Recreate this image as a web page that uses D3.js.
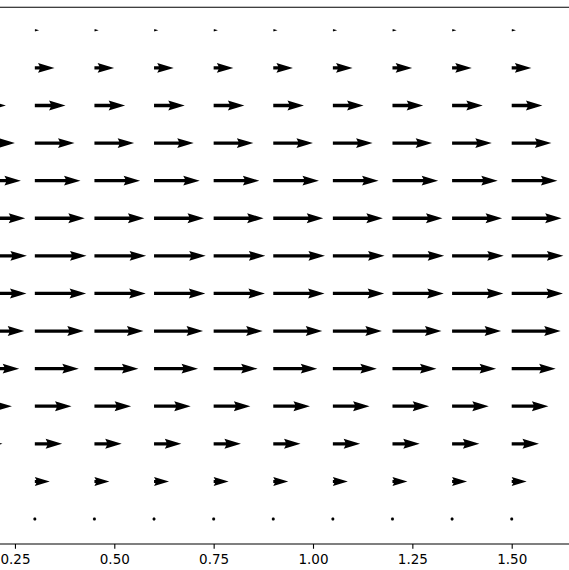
<!DOCTYPE html>
<html>
<head>
<meta charset="utf-8">
<script src="https://cdn.jsdelivr.net/npm/d3@7"></script>
<style>
html,body{margin:0;padding:0;background:#fff;}
svg{display:block;}
text{font-family:"DejaVu Sans",sans-serif;}
</style>
</head>
<body>
<script>
// ---- data ----
const xPositions = [0.15, 0.30, 0.45, 0.60, 0.75, 0.90, 1.05, 1.20, 1.35, 1.50, 1.65];
const yPositions = [1.95, 1.80, 1.65, 1.50, 1.35, 1.20, 1.05, 0.90, 0.75, 0.60, 0.45, 0.30, 0.15, 0.00];
// horizontal velocity per row (top to bottom), vertical component is zero
const uValues = [0.083, 0.381, 0.594, 0.768, 0.884, 0.967, 1.000, 0.992, 0.948, 0.851, 0.710, 0.528, 0.290, 0.000];
const vValues = [0, 0, 0, 0, 0, 0, 0, 0, 0, 0, 0, 0, 0, 0];
const xTicks = [0.25, 0.50, 0.75, 1.00, 1.25, 1.50];

const W = 569, H = 570;
const svg = d3.select("body").append("svg").attr("width", W).attr("height", H);

const x = d3.scaleLinear().domain([0.5, 1.5]).range([114.3, 511.7]);
const y = d3.scaleLinear().domain([0, 1.95]).range([519, 30.3]);
const len = d3.scaleLinear().domain([0, 1]).range([0, 51.7]);
const yBottom = -0.1, yTop = 2.042;

// quiver arrow geometry (matplotlib style)
const w = 3.3, headLen = 5, headAxis = 4.5, headW = 3;
function arrowPath(L) {
  const Lw = L / w;
  if (Lw < 1) {
    const pts = d3.range(7).map(i => {
      const t = i * Math.PI / 3;
      return [Math.cos(t) * 0.5 * w, Math.sin(t) * 0.5 * w];
    });
    return "M" + pts.map(p => p.join(",")).join("L") + "Z";
  }
  let pts;
  if (Lw < headLen) {
    const s = Lw / headLen;
    pts = [[0, 0.5], [headLen - headAxis, 0.5], [0, 0.5 * headW], [headLen, 0],
           [0, -0.5 * headW], [headLen - headAxis, -0.5], [0, -0.5]]
      .map(p => [p[0] * s * w, p[1] * s * w]);
  } else {
    pts = [[0, 0.5], [Lw - headAxis, 0.5], [Lw - headLen, 0.5 * headW], [Lw, 0],
           [Lw - headLen, -0.5 * headW], [Lw - headAxis, -0.5], [0, -0.5]]
      .map(p => [p[0] * w, p[1] * w]);
  }
  return "M" + pts.map(p => p.join(",")).join("L") + "Z";
}

const data = [];
yPositions.forEach((yy, i) => {
  xPositions.forEach(xx => data.push({x: xx, y: yy, u: uValues[i], v: vValues[i]}));
});

svg.append("g").selectAll("path").data(data).join("path")
  .attr("transform", d => `translate(${x(d.x)},${y(d.y)}) rotate(${-Math.atan2(d.v, d.u) * 180 / Math.PI})`)
  .attr("d", d => arrowPath(len(Math.hypot(d.u, d.v))))
  .attr("fill", "#000");

// spines
svg.append("line").attr("x1", 0).attr("x2", W).attr("y1", y(yTop)).attr("y2", y(yTop))
  .attr("stroke", "#000").attr("stroke-width", 1.1);
svg.append("line").attr("x1", 0).attr("x2", W).attr("y1", y(yBottom)).attr("y2", y(yBottom))
  .attr("stroke", "#000").attr("stroke-width", 1.1);

// x axis
const axis = d3.axisBottom(x).tickValues(xTicks).tickFormat(d3.format(".2f")).tickSize(4.7).tickPadding(0);
const gx = svg.append("g").attr("transform", `translate(0,${y(yBottom)})`).call(axis);
gx.select(".domain").remove();
gx.selectAll(".tick line").attr("stroke", "#000").attr("stroke-width", 1.1);
gx.selectAll(".tick text").attr("y", 20.3).attr("dy", 0)
  .attr("font-size", "13.5px").attr("font-family", "DejaVu Sans, sans-serif").attr("fill", "#000");
</script>
</body>
</html>
